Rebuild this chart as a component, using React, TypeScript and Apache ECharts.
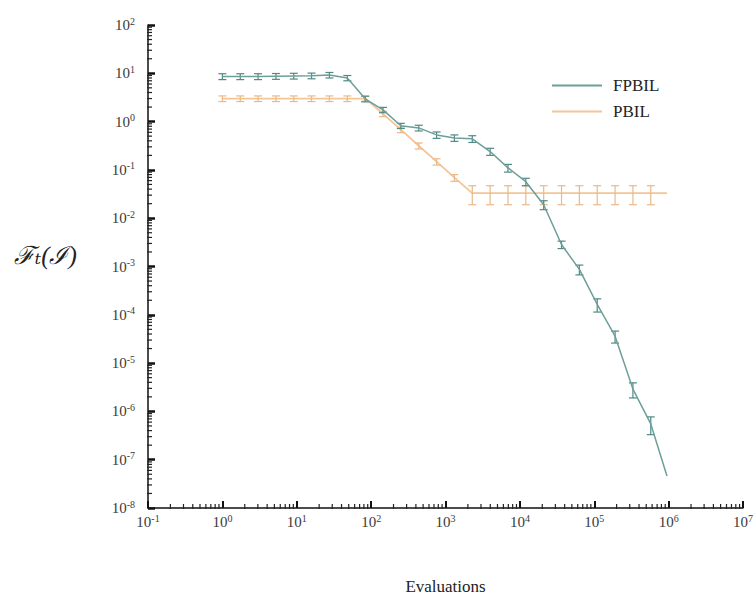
import React, { useEffect, useRef } from "react";
import * as echarts from "echarts";

const evaluations = [1, 1.74, 3.02, 5.25, 9.12, 15.8, 27.5, 47.9, 83.2, 144.5, 251, 437, 759, 1318, 2291, 3981, 6918, 12023, 20893, 36308, 63096, 109648, 190546, 331131, 575440, 950000];
const fpbilMean = [8.6, 8.6, 8.6, 8.7, 8.8, 8.9, 9.2, 8.0, 2.96, 1.75, 0.82, 0.74, 0.53, 0.46, 0.44, 0.24, 0.11, 0.057, 0.019, 0.00285, 0.00087, 0.000164, 0.000036, 0.0000029, 0.00000055, 0.000000046];
const fpbilStd = [1.2, 1.2, 1.2, 1.2, 1.2, 1.2, 1.2, 1.0, 0.4, 0.22, 0.1, 0.1, 0.08, 0.07, 0.07, 0.04, 0.02, 0.01, 0.004, 0.0005, 0.0002, 0.00005, 0.00001, 0.000001, 0.00000022, 0];
const pbilMean = [3.0, 3.0, 3.0, 3.0, 3.0, 3.0, 3.0, 3.0, 3.0, 1.45, 0.68, 0.316, 0.148, 0.069, 0.033, 0.033, 0.033, 0.033, 0.033, 0.033, 0.033, 0.033, 0.033, 0.033, 0.033, 0.033];
const pbilStd = [0.4, 0.4, 0.4, 0.4, 0.4, 0.4, 0.4, 0.4, 0.35, 0.18, 0.09, 0.045, 0.022, 0.011, 0.014, 0.014, 0.014, 0.014, 0.014, 0.014, 0.014, 0.014, 0.014, 0.014, 0.014, 0];

const seriesNames = ["FPBIL", "PBIL"];
const xAxisName = "Evaluations";
const yAxisName = "ℱₜ(ℐ)";
const xRange = [0.1, 1e7];
const yRange = [1e-8, 1e2];

const FPBIL_COLOR = "#6d9f9a";
const FPBIL_BAR = "#4f8a84";
const PBIL_COLOR = "#f4c595";
const PBIL_BAR = "#e9b98a";
const FONT = "'Liberation Serif', 'DejaVu Serif', serif";

function minorValues(d0: number, d1: number) {
  const out: number[] = [];
  for (let d = d0; d < d1; d++) {
    for (let m = 2; m <= 9; m++) out.push(m * Math.pow(10, d));
  }
  return out;
}

function supLabel(v: number) {
  const e = Math.round(Math.log10(v));
  return `10{sup|${e}}`;
}

const labelRich = {
  sup: { fontSize: 10, fontFamily: FONT, color: "#3a3a3a", padding: [0, 0, 8, 0] },
};

function errorSeries(name: string, mean: number[], std: number[], color: string) {
  const data = evaluations
    .map((x, i) => [x, Math.max(mean[i] - std[i], 1e-12), mean[i] + std[i], std[i]])
    .filter((d) => d[3] > 0);
  return {
    type: "custom",
    name,
    data,
    encode: { x: 0, y: [1, 2] },
    z: 3,
    renderItem: (params: any, api: any) => {
      const x = api.value(0);
      const top = api.coord([x, api.value(2)]);
      const bot = api.coord([x, api.value(1)]);
      const w = 4;
      const style = { stroke: color, lineWidth: 1.2 };
      return {
        type: "group",
        children: [
          { type: "line", shape: { x1: top[0], y1: top[1], x2: bot[0], y2: bot[1] }, style },
          { type: "line", shape: { x1: top[0] - w, y1: top[1], x2: top[0] + w, y2: top[1] }, style },
          { type: "line", shape: { x1: bot[0] - w, y1: bot[1], x2: bot[0] + w, y2: bot[1] }, style },
        ],
      };
    },
  };
}

export default function App() {
  const ref = useRef<HTMLDivElement>(null);
  useEffect(() => {
    if (!ref.current) return;
    const chart = echarts.init(ref.current, null, { renderer: "svg" });
    const yMinor = minorValues(-8, 2).map((v) => [xRange[0], v]);
    const xMinor = minorValues(-1, 7).map((v) => [v, yRange[0]]);
    chart.setOption({
      animation: false,
      backgroundColor: "#ffffff",
      grid: { left: 148, right: 5, top: 25, bottom: 90, containLabel: false },
      legend: {
        data: seriesNames.map((n) => ({ name: n, icon: "rect" })),
        orient: "vertical",
        left: 547,
        top: 72,
        itemWidth: 50,
        itemHeight: 2,
        itemGap: 9,
        textStyle: { fontFamily: FONT, fontSize: 17, color: "#222", padding: [0, 0, 0, 6] },
      },
      xAxis: {
        type: "log",
        logBase: 10,
        min: xRange[0],
        max: xRange[1],
        interval: 1,
        name: xAxisName,
        nameLocation: "middle",
        nameGap: 70,
        nameTextStyle: { fontFamily: FONT, fontSize: 17, color: "#222" },
        axisLine: { lineStyle: { color: "#111", width: 1.5 } },
        axisTick: { inside: true, length: 7, lineStyle: { color: "#111", width: 2 } },
        axisLabel: {
          formatter: supLabel,
          fontFamily: FONT,
          fontSize: 15,
          color: "#3a3a3a",
          margin: 5,
          rich: labelRich,
        },
        splitLine: { show: false },
      },
      yAxis: {
        type: "log",
        logBase: 10,
        min: yRange[0],
        max: yRange[1],
        interval: 1,
        axisLine: { lineStyle: { color: "#111", width: 1.5 } },
        axisTick: { inside: true, length: 7, lineStyle: { color: "#111", width: 2.5 } },
        axisLabel: {
          formatter: supLabel,
          fontFamily: FONT,
          fontSize: 15,
          color: "#3a3a3a",
          margin: 13,
          interval: 0,
          rich: labelRich,
        },
        splitLine: { show: false },
      },
      graphic: [
        {
          type: "text",
          left: 14,
          top: 243,
          style: { text: yAxisName, font: `italic 25px ${FONT}`, fill: "#222" },
        },
      ],
      series: [
        {
          type: "line",
          name: "PBIL",
          data: evaluations.map((x, i) => [x, pbilMean[i]]),
          symbol: "none",
          lineStyle: { color: PBIL_COLOR, width: 1.8 },
          itemStyle: { color: PBIL_COLOR },
          z: 2,
        },
        errorSeries("PBIL err", pbilMean, pbilStd, PBIL_BAR),
        {
          type: "line",
          name: "FPBIL",
          data: evaluations.map((x, i) => [x, fpbilMean[i]]),
          symbol: "none",
          lineStyle: { color: FPBIL_COLOR, width: 1.5 },
          itemStyle: { color: FPBIL_COLOR },
          z: 4,
        },
        errorSeries("FPBIL err", fpbilMean, fpbilStd, FPBIL_BAR),
        {
          type: "custom",
          name: "yMinor",
          data: yMinor,
          clip: false,
          silent: true,
          renderItem: (params: any, api: any) => {
            const p = api.coord([api.value(0), api.value(1)]);
            return {
              type: "line",
              shape: { x1: p[0] - 1, y1: p[1], x2: p[0] + 4, y2: p[1] },
              style: { stroke: "#222", lineWidth: 1.2 },
            };
          },
        },
        {
          type: "custom",
          name: "xMinor",
          data: xMinor,
          clip: false,
          silent: true,
          renderItem: (params: any, api: any) => {
            const p = api.coord([api.value(0), api.value(1)]);
            return {
              type: "line",
              shape: { x1: p[0], y1: p[1] + 1, x2: p[0], y2: p[1] - 4 },
              style: { stroke: "#222", lineWidth: 1.2 },
            };
          },
        },
      ],
    });
    return () => chart.dispose();
  }, []);
  return (
    <div
      ref={ref}
      style={{ position: "absolute", left: 0, top: 0, width: 756, height: 600 }}
    />
  );
}
